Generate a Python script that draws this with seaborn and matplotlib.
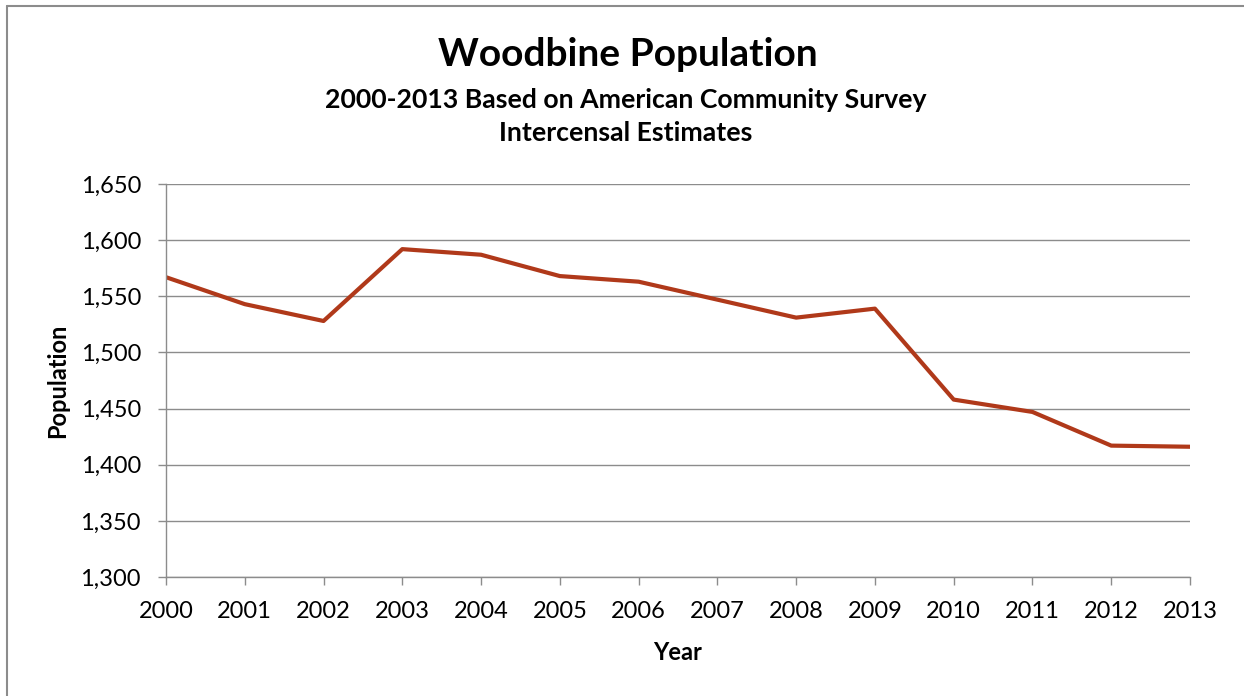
import matplotlib
matplotlib.use("Agg")
import matplotlib.pyplot as plt
import matplotlib.ticker as mticker
from matplotlib.lines import Line2D
import seaborn as sns
import pandas as pd

years = [2000, 2001, 2002, 2003, 2004, 2005, 2006, 2007, 2008, 2009, 2010, 2011, 2012, 2013]
population = [1567, 1543, 1528, 1592, 1587, 1568, 1563, 1547, 1531, 1539, 1458, 1447, 1417, 1416]
y_ticks = [1300, 1350, 1400, 1450, 1500, 1550, 1600, 1650]

title = "Woodbine Population"
subtitle = "2000-2013 Based on American Community Survey\nIntercensal Estimates"

sns.set_theme(style="white")
plt.rcParams["font.family"] = ["Lato", "DejaVu Sans"]
plt.rcParams["text.color"] = "black"

df = pd.DataFrame({"Year": years, "Population": population})

fig = plt.figure(figsize=(12.44, 6.96), dpi=100)
ax = fig.add_axes([166/1244, 1 - 577/696, (1190-166)/1244, (577-184)/696])

sns.lineplot(data=df, x="Year", y="Population", ax=ax, color="#B0391A", linewidth=3.0)

ax.set_xlim(years[0], years[-1])
ax.set_ylim(y_ticks[0], y_ticks[-1])
ax.set_xticks(years)
ax.set_yticks(y_ticks)
ax.yaxis.set_major_formatter(mticker.FuncFormatter(lambda v, p: f"{int(v):,}"))
ax.grid(axis="y", color="#8C8C8C", linewidth=1.0)
ax.set_axisbelow(True)
for s in ["top", "right"]:
    ax.spines[s].set_visible(False)
for s in ["left", "bottom"]:
    ax.spines[s].set_color("#8C8C8C")
    ax.spines[s].set_linewidth(1.0)
ax.tick_params(axis="both", which="major", direction="out", length=6, width=1.0,
               color="#8C8C8C", labelsize=17, labelcolor="black",
               bottom=True, left=True)
ax.tick_params(axis="x", pad=11)
ax.tick_params(axis="y", pad=12)

ax.set_xlabel("Year", fontsize=17, fontweight="bold", color="black")
ax.set_ylabel("Population", fontsize=17, fontweight="bold", color="black")
ax.xaxis.set_label_coords(0.5, (577 - 652) / (577 - 184), transform=ax.transAxes)
ax.yaxis.set_label_coords((58 - 166) / (1190 - 166), 0.5, transform=ax.transAxes)
ax.xaxis.label.set_va("center")
ax.yaxis.label.set_va("center")

fig.text(628/1244, 1 - 55/696, title, ha="center", va="center", fontsize=28,
         fontweight="bold", color="black")
fig.text(626/1244, 1 - 100/696, subtitle.split("\n")[0], ha="center", va="center",
         fontsize=19.2, fontweight="bold", color="black")
fig.text(626/1244, 1 - 133/696, subtitle.split("\n")[1], ha="center", va="center",
         fontsize=19.2, fontweight="bold", color="black")

# chart frame (left and top edges visible)
fig.add_artist(Line2D([7/1244, 7/1244], [0, 1 - 6/696], transform=fig.transFigure,
                      color="#8C8C8C", linewidth=1.5))
fig.add_artist(Line2D([7/1244, 1], [1 - 6/696, 1 - 6/696], transform=fig.transFigure,
                      color="#8C8C8C", linewidth=1.5))

fig.savefig("out.png", dpi=100, facecolor="white")
